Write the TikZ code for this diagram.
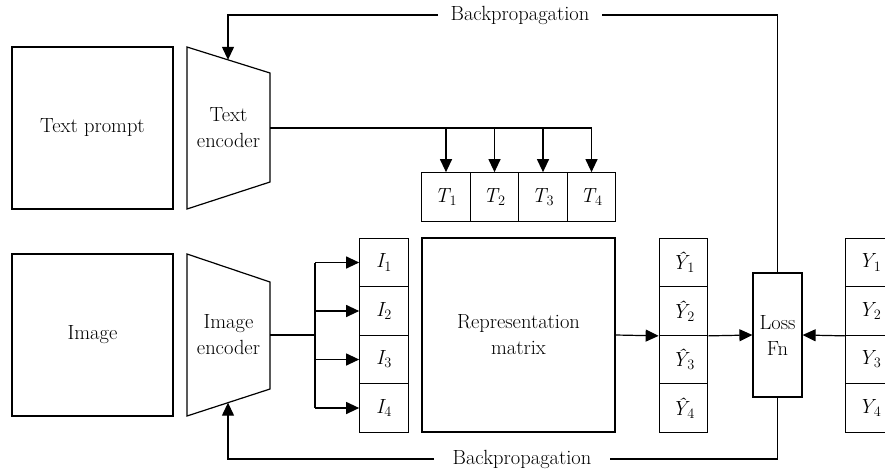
\documentclass[tikz,border=0pt]{standalone}
\usetikzlibrary{arrows.meta,calc}
\newcommand{\vsub}[2]{{\itshape #1}\kern0.5pt\textsubscript{#2}}
\begin{document}
\begin{tikzpicture}[x=1pt,y=-1pt,line width=1.2pt,
  every node/.style={font=\rmfamily\fontsize{20.5}{26}\selectfont},
  arr/.style={-{Triangle[length=13pt,width=12pt]}},
  bigbox/.style={draw,minimum width=161pt,minimum height=162pt,inner sep=0pt},
  cell/.style={draw,minimum width=48.5pt,minimum height=48.5pt,inner sep=0pt},
  lbl/.style={align=center,inner sep=0pt},
  gaplbl/.style={inner ysep=0pt,inner xsep=#1}]
\useasboundingbox (0,0) rectangle (885,472);
\clip (0,0) rectangle (885,472);

% input boxes
\node[bigbox] (tprompt) at (92.5,128) {Text prompt};
\node[bigbox] (img) at (92.5,335) {Image};

% text encoder trapezoid
\coordinate (tA) at (187,47);
\coordinate (tB) at (270,73);
\coordinate (tC) at (270,182);
\coordinate (tD) at (187,209);
\draw (tA) -- (tB) -- (tC) -- (tD) -- cycle;
\node[lbl] (tenc) at (228.5,128) {Text\\encoder};
\coordinate (tencR) at (270,128);
\coordinate (tencTop) at ($(tA)!0.494!(tB)$);

% image encoder trapezoid
\coordinate (iA) at (187,254);
\coordinate (iB) at (270,282);
\coordinate (iC) at (270,389);
\coordinate (iD) at (187,416);
\draw (iA) -- (iB) -- (iC) -- (iD) -- cycle;
\node[lbl] (ienc) at (228.5,335) {Image\\encoder};
\coordinate (iencR) at (270,335);
\coordinate (iencBot) at ($(iD)!0.494!(iC)$);

% T cells
\node[cell] (T1) at (446,197) {\vsub{T}{1}};
\node[cell] (T2) at (494.5,197) {\vsub{T}{2}};
\node[cell] (T3) at (543,197) {\vsub{T}{3}};
\node[cell] (T4) at (591.5,197) {\vsub{T}{4}};

% I cells
\node[cell] (I1) at (384,262.5) {\vsub{I}{1}};
\node[cell] (I2) at (384,311) {\vsub{I}{2}};
\node[cell] (I3) at (384,359.5) {\vsub{I}{3}};
\node[cell] (I4) at (384,408) {\vsub{I}{4}};

% representation matrix
\node[draw,minimum width=193pt,minimum height=194pt,lbl] (rep) at (518.5,335) {Representation\\matrix};

% Y hat cells
\node[cell] (Yh1) at (683.5,262.5) {\vsub{\^{Y}}{1}};
\node[cell] (Yh2) at (683.5,311) {\vsub{\^{Y}}{2}};
\node[cell] (Yh3) at (683.5,359.5) {\vsub{\^{Y}}{3}};
\node[cell] (Yh4) at (683.5,408) {\vsub{\^{Y}}{4}};

% loss
\node[draw,minimum width=49pt,minimum height=124pt,lbl] (loss) at (777.5,335) {Loss\\Fn};

% Y cells
\node[cell] (Y1) at (870,262.5) {\vsub{Y}{1}};
\node[cell] (Y2) at (870,311) {\vsub{Y}{2}};
\node[cell] (Y3) at (870,359.5) {\vsub{Y}{3}};
\node[cell] (Y4) at (870,408) {\vsub{Y}{4}};

% text encoder -> T cells
\draw[arr] (tencR) -| (T4.north);
\foreach \k in {1,2,3}{\draw[arr] (T\k.north |- tencR) -- (T\k.north);}

% image encoder -> I cells
\coordinate (ibr) at (315,335);
\draw (iencR) -- (ibr);
\draw (ibr |- I1.west) -- (ibr |- I4.west);
\foreach \k in {1,2,3,4}{\draw[arr] (ibr |- I\k.west) -- (I\k.west);}

% representation -> Y hat -> loss <- Y
\draw[arr] (rep.east) -- (Yh2.south west);
\draw[arr] (Yh2.south east) -- (loss.west);
\draw[arr] (Y2.south west) -- (loss.east);

% backpropagation top
\node[gaplbl=12pt] (bpt) at (520,15) {Backpropagation};
\coordinate (btR) at (loss.north |- bpt);
\coordinate (btL) at (tencTop |- bpt);
\draw (loss.north) -- (btR) -- (bpt.east);
\draw[arr] (bpt.west) -- (btL) -- (tencTop);

% backpropagation bottom
\node[gaplbl=18pt] (bpb) at (522,459) {Backpropagation};
\coordinate (bbR) at (loss.south |- bpb);
\coordinate (bbL) at (iencBot |- bpb);
\draw (loss.south) -- (bbR) -- (bpb.east);
\draw[arr] (bpb.west) -- (bbL) -- (iencBot);
\end{tikzpicture}
\end{document}
